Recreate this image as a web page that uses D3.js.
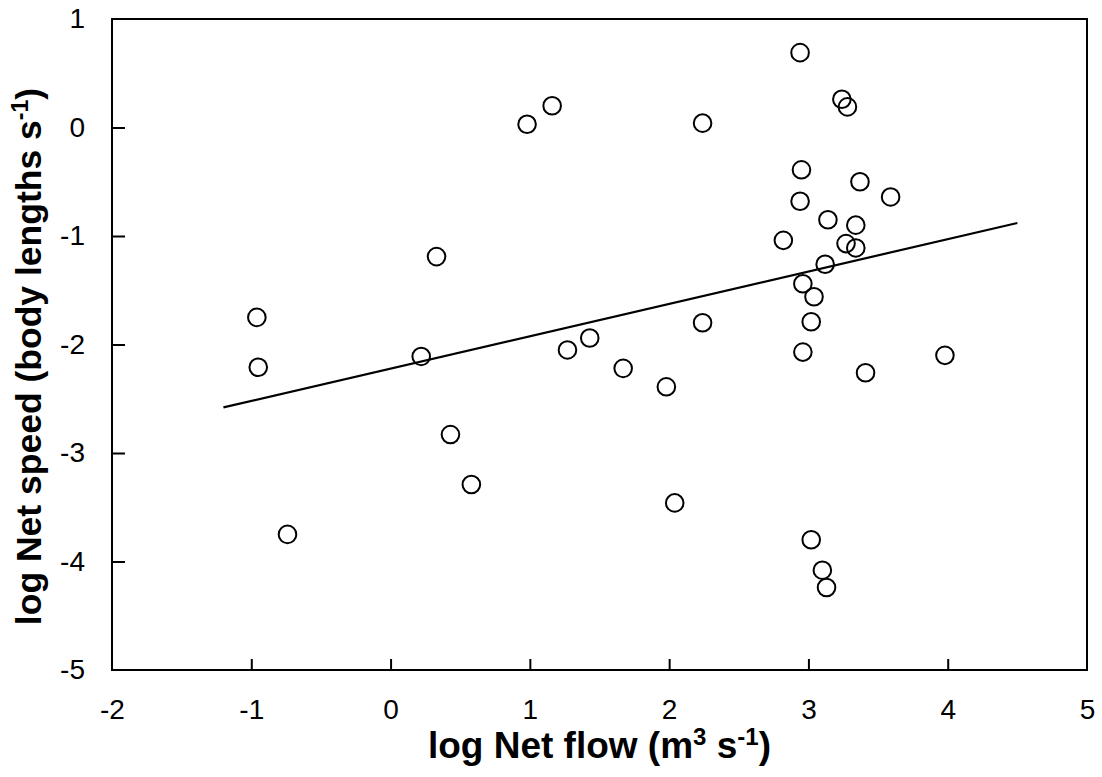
<!DOCTYPE html>
<html>
<head>
<meta charset="utf-8">
<script src="https://cdn.jsdelivr.net/npm/d3@7"></script>
<style>
  body { margin: 0; background: #fff; }
  svg text { font-family: Arial, "Liberation Sans", sans-serif; fill: #000; }
  .axis .domain { display: none; }
  .axis line { stroke: #000; stroke-width: 2; }
</style>
</head>
<body>
<script>
// log net flow (x) and log net speed (y)
var netFlow = [-0.96, -0.95, -0.74, 0.33, 0.22, 0.43, 0.58, 0.98, 1.16, 1.27,
               1.43, 1.67, 1.98, 2.04, 2.24, 2.24, 2.94, 3.24, 3.28, 2.95,
               3.37, 3.59, 2.94, 3.14, 3.34, 2.82, 3.27, 3.34, 3.12, 2.96,
               3.04, 3.02, 2.96, 3.41, 3.98, 3.02, 3.10, 3.13];
var netSpeed = [-1.75, -2.21, -3.75, -1.19, -2.11, -2.83, -3.29, 0.03, 0.20, -2.05,
                -1.94, -2.22, -2.39, -3.46, 0.04, -1.80, 0.69, 0.26, 0.19, -0.39,
                -0.50, -0.64, -0.68, -0.85, -0.90, -1.04, -1.07, -1.11, -1.26, -1.44,
                -1.56, -1.79, -2.07, -2.26, -2.10, -3.80, -4.08, -4.24];

// fitted trend line end points
var fitX = [-1.2, 4.5];
var fitY = [-2.58, -0.88];

var xTicks = [-2, -1, 0, 1, 2, 3, 4, 5];
var yTicks = [1, 0, -1, -2, -3, -4, -5];

var margin = {top: 19, right: 15, bottom: 107, left: 112}
  , width = 1102 - margin.left - margin.right
  , height = 777 - margin.top - margin.bottom;

var xScale = d3.scaleLinear().domain([-2, 5]).range([0, width]);
var yScale = d3.scaleLinear().domain([-5, 1]).range([height, 0]);

// plain hyphen minus like the original
var fmt = function(d) { return String(d); };

var svg = d3.select("body").append("svg")
    .attr("width", 1102)
    .attr("height", 777)
  .append("g")
    .attr("transform", "translate(" + margin.left + "," + margin.top + ")");

// x axis, ticks pointing in
svg.append("g")
  .attr("class", "x axis")
  .attr("transform", "translate(0," + height + ")")
  .call(d3.axisBottom(xScale).tickValues(xTicks).tickFormat(fmt)
        .tickSizeInner(-11).tickSizeOuter(0).tickPadding(29))
  .call(function(g) {
    g.selectAll("text").style("font-size", "28px").attr("font-family", null);
    g.selectAll(".tick line").filter(function(d) { return d === -2 || d === 5; }).remove();
  });

// y axis
svg.append("g")
  .attr("class", "y axis")
  .call(d3.axisLeft(yScale).tickValues(yTicks).tickFormat(fmt)
        .tickSizeInner(-13).tickSizeOuter(0).tickPadding(27))
  .call(function(g) {
    g.selectAll("text").style("font-size", "28px").attr("font-family", null);
    g.selectAll(".tick line").filter(function(d) { return d === 1 || d === -5; }).remove();
  });

// plot frame
svg.append("rect")
  .attr("x", 0).attr("y", 0)
  .attr("width", width).attr("height", height)
  .attr("fill", "none")
  .attr("stroke", "#000")
  .attr("stroke-width", 2);

// trend line
var line = d3.line()
  .x(function(d) { return xScale(d[0]); })
  .y(function(d) { return yScale(d[1]); });
svg.append("path")
  .datum(d3.zip(fitX, fitY))
  .attr("d", line)
  .attr("fill", "none")
  .attr("stroke", "#000")
  .attr("stroke-width", 2.2);

// points
svg.selectAll(".dot")
  .data(d3.zip(netFlow, netSpeed))
  .enter().append("circle")
    .attr("class", "dot")
    .attr("cx", function(d) { return xScale(d[0]); })
    .attr("cy", function(d) { return yScale(d[1]); })
    .attr("r", 8.8)
    .attr("fill", "none")
    .attr("stroke", "#000")
    .attr("stroke-width", 2);

// x axis title
var xt = svg.append("text")
  .attr("x", width / 2)
  .attr("y", height + 88)
  .attr("text-anchor", "middle")
  .style("font-size", "37px")
  .style("font-weight", "bold");
xt.append("tspan").text("log Net flow (m");
xt.append("tspan").attr("baseline-shift", "super").style("font-size", "65%").text("3");
xt.append("tspan").text(" s");
xt.append("tspan").attr("baseline-shift", "super").style("font-size", "65%").text("-1");
xt.append("tspan").text(")");

// y axis title
var yt = svg.append("text")
  .attr("transform", "translate(" + (41 - margin.left) + "," + (height / 2 + 12) + ") rotate(-90)")
  .attr("text-anchor", "middle")
  .style("font-size", "35.5px")
  .style("font-weight", "bold");
yt.append("tspan").text("log Net speed (body lengths s");
yt.append("tspan").attr("baseline-shift", "super").style("font-size", "65%").text("-1");
yt.append("tspan").text(")");
</script>
</body>
</html>
